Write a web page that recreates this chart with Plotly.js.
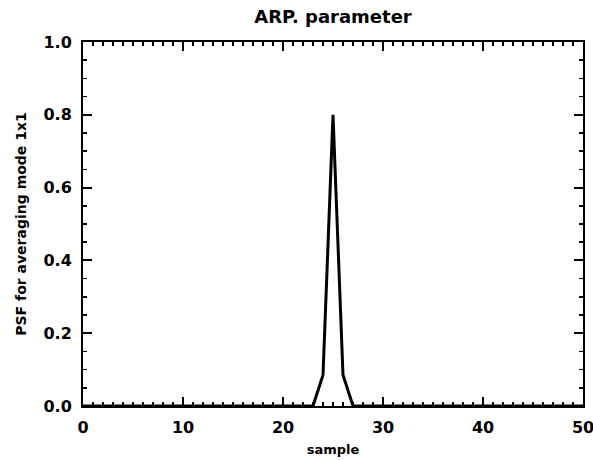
<!DOCTYPE html>
<html>
<head>
<meta charset="utf-8">
<script src="https://cdn.plot.ly/plotly-3.0.1.min.js"></script>
<style>html,body{margin:0;padding:0;background:#fff;}#chart{width:593px;height:460px;}</style>
</head>
<body>
<div id="chart"></div>
<script>
// sample index and PSF values (averaging mode 1x1)
const samples = [];
for (let i = 0; i <= 50; i++) samples.push(i);
const psfValues = [
  0,0,0,0,0,0,0,0,0,0,
  0,0,0,0,0,0,0,0,0,0,
  0,0,0,0,0.085,0.8,0.085,0,0,0,
  0,0,0,0,0,0,0,0,0,0,
  0,0,0,0,0,0,0,0,0,0,
  0
];
const xTickVals = [0,10,20,30,40,50];
const yTickLabels = ["0.0","0.2","0.4","0.6","0.8","1.0"];
const yTickVals = [0,0.2,0.4,0.6,0.8,1.0];

const fontFam = "DejaVu Sans, Arial, sans-serif";
const trace = {
  x: samples, y: psfValues, type: 'scatter', mode: 'lines',
  line: {color: '#000', width: 3}, hoverinfo: 'none', cliponaxis: false
};
const axisCommon = {
  showgrid: false, zeroline: false, showline: true, linecolor: '#000', linewidth: 2,
  mirror: 'allticks', ticks: 'inside', ticklen: 9, tickwidth: 2, tickcolor: '#000',
  ticklabelstandoff: 6, ticklabeloverflow: 'allow',
  tickfont: {family: fontFam, size: 16, color: '#000', weight: 'bold'}
};
const layout = {
  width: 593, height: 460,
  margin: {l: 83, r: 10, t: 42, b: 54},
  paper_bgcolor: '#fff', plot_bgcolor: '#fff',
  showlegend: false,
  title: {text: 'ARP. parameter', x: 0.5615, xanchor: 'center', y: 0.963, yanchor: 'middle',
          font: {family: fontFam, size: 18, color: '#000', weight: 'bold'}},
  xaxis: Object.assign({}, axisCommon, {
    range: [-0.0001, 50.0001], tickvals: xTickVals, ticktext: xTickVals.map(String),
    minor: {dtick: 1, ticks: 'inside', ticklen: 4, tickwidth: 1.5, tickcolor: '#000'},
    title: {text: 'sample', standoff: 9, font: {family: fontFam, size: 13, color: '#000', weight: 'bold'}}
  }),
  yaxis: Object.assign({}, axisCommon, {
    range: [-0.00001, 1.00001], tickvals: yTickVals, ticktext: yTickLabels,
    minor: {dtick: 0.05, ticks: 'inside', ticklen: 4, tickwidth: 1.5, tickcolor: '#000'},
    title: {text: 'PSF for averaging mode 1x1', standoff: 14, font: {family: fontFam, size: 14, color: '#000', weight: 'bold'}}
  })
};
Plotly.newPlot('chart', [trace], layout, {displayModeBar: false, staticPlot: true});
</script>
</body>
</html>
